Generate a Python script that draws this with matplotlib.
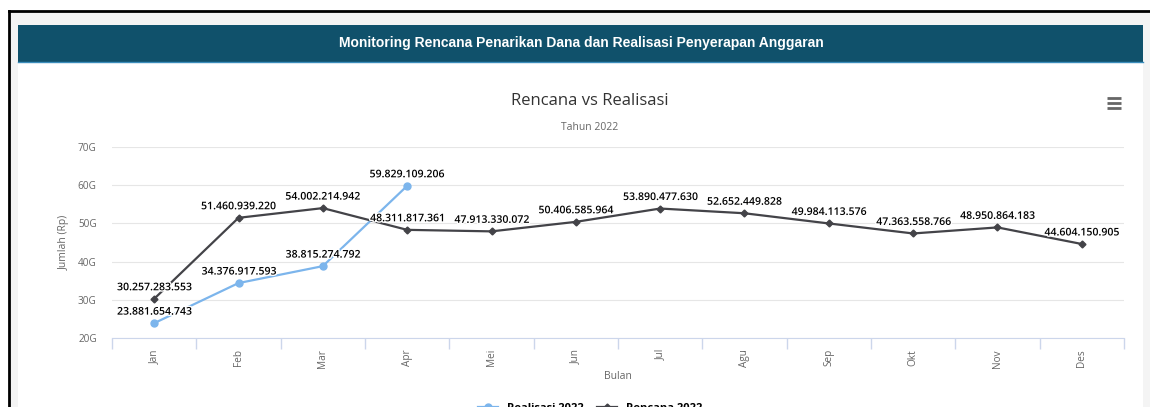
import matplotlib.pyplot as plt
import matplotlib.patheffects as pe
from matplotlib.patches import Rectangle
from matplotlib.lines import Line2D
import numpy as np

# data
bulan = ["Jan", "Feb", "Mar", "Apr", "Mei", "Jun", "Jul", "Agu", "Sep", "Okt", "Nov", "Des"]
realisasi = [23881654743, 34376917593, 38815274792, 59829109206]
rencana = [30257283553, 51460939220, 54002214942, 48311817361, 47913330072, 50406585964,
           53890477630, 52652449828, 49984113576, 47363558766, 48950864183, 44604150905]
yticks = [20e9, 30e9, 40e9, 50e9, 60e9, 70e9]

W, H = 1150, 407
fig = plt.figure(figsize=(W / 100, H / 100), dpi=100)
fig.patch.set_facecolor("white")

def px(x, y, w, h):
    # pixel box (top-left origin) -> figure fraction
    return (x / W, 1 - (y + h) / H, w / W, h / H)

# page background and frame
fig.add_artist(Rectangle(px(9, 11, 1141, 400)[:2], 1141 / W, 400 / H,
                         transform=fig.transFigure, facecolor="#f4f4f4", edgecolor="none", zorder=0))
fig.add_artist(Rectangle(px(18, 25, 1125, 390)[:2], 1125 / W, 390 / H,
                         transform=fig.transFigure, facecolor="white", edgecolor="none", zorder=0))
fig.add_artist(Line2D([9 / W, 9 / W], [0, 1 - 11 / H], transform=fig.transFigure, color="black", lw=2))
fig.add_artist(Line2D([9 / W, 1], [1 - 11 / H, 1 - 11 / H], transform=fig.transFigure, color="black", lw=2))

# header
b = px(18, 25, 1125, 37)
fig.add_artist(Rectangle(b[:2], b[2], b[3], transform=fig.transFigure,
                         facecolor="#10516b", edgecolor="none", zorder=1))
fig.add_artist(Line2D([18 / W, 1143 / W], [1 - 62 / H] * 2, transform=fig.transFigure,
                      color="#3c8dbc", lw=1, zorder=2))
fig.text(581 / W, 1 - 43 / H, "Monitoring Rencana Penarikan Dana dan Realisasi Penyerapan Anggaran",
         ha="center", va="center", color="white", fontsize=10, fontweight="bold",
         family="Liberation Sans")

# titles
fig.text(590 / W, 1 - 101 / H, "Rencana vs Realisasi", ha="center", va="center",
         fontsize=12, color="#333333", family="Open Sans")
fig.text(590 / W, 1 - 127 / H, "Tahun 2022", ha="center", va="center",
         fontsize=7.5, color="#666666", family="Open Sans")

# menu icon
for yy in (98, 103, 108):
    fig.add_artist(Line2D([1107 / W, 1121 / W], [1 - yy / H] * 2, transform=fig.transFigure,
                          color="#666666", lw=2.0, solid_capstyle="butt"))

ax = fig.add_axes([112 / W, 1 - 338 / H, 1012 / W, 191 / H])
x = np.arange(len(bulan))
ax.set_xlim(-0.5, len(bulan) - 0.5)
ax.set_ylim(20e9, 70e9)

ax.plot(x[:len(realisasi)], realisasi, color="#7cb5ec", lw=1.6, marker="o", ms=5, zorder=3)
ax.plot(x, rencana, color="#434348", lw=1.6, marker="D", ms=3.5, zorder=3)

def fmt(v):
    return f"{v:,}".replace(",", ".")

outline = [pe.withStroke(linewidth=2, foreground="white")]
for xs, ys in ((x[:len(realisasi)], realisasi), (x, rencana)):
    for xi, yi in zip(xs, ys):
        ax.annotate(fmt(yi), (xi, yi), xytext=(0, 4), textcoords="offset points",
                    ha="center", va="bottom", fontsize=7.6, fontweight="semibold",
                    color="black", family="Open Sans", path_effects=outline, zorder=4)

ax.set_yticks(yticks)
ax.set_yticklabels([f"{int(v / 1e9)}G" for v in yticks])
ax.grid(axis="y", color="#e6e6e6", lw=0.8)
ax.set_axisbelow(True)
ax.set_xticks(x)
ax.set_xticklabels(bulan, rotation=90, family="Open Sans")
ax.set_xticks(np.arange(-0.5, len(bulan)), minor=True)
ax.tick_params(axis="x", which="major", length=0, pad=8, labelsize=7.2, labelcolor="#666666")
ax.tick_params(axis="x", which="minor", length=8, color="#ccd6eb", width=1)
ax.tick_params(axis="y", length=0, labelsize=7.2, labelcolor="#666666", pad=11)
for lbl in ax.get_yticklabels():
    lbl.set_family("Open Sans")
for s in ("top", "right", "left"):
    ax.spines[s].set_visible(False)
ax.spines["bottom"].set_color("#ccd6eb")
ax.set_ylabel("Jumlah (Rp)", fontsize=7.5, color="#666666", labelpad=6, family="Open Sans")
ax.set_xlabel("Bulan", fontsize=7.5, color="#666666", labelpad=2, family="Open Sans")

handles = [Line2D([], [], color="#7cb5ec", lw=1.6, marker="o", ms=5),
           Line2D([], [], color="#434348", lw=1.6, marker="D", ms=3.5)]
fig.legend(handles, ["Realisasi 2022", "Rencana 2022"], loc="center",
           bbox_to_anchor=(590 / W, 1 - 408 / H), ncol=2, frameon=False,
           prop={"size": 8, "weight": "bold", "family": "Open Sans"},
           handlelength=1.8, columnspacing=1.2)

fig.savefig("out.png", dpi=100)
